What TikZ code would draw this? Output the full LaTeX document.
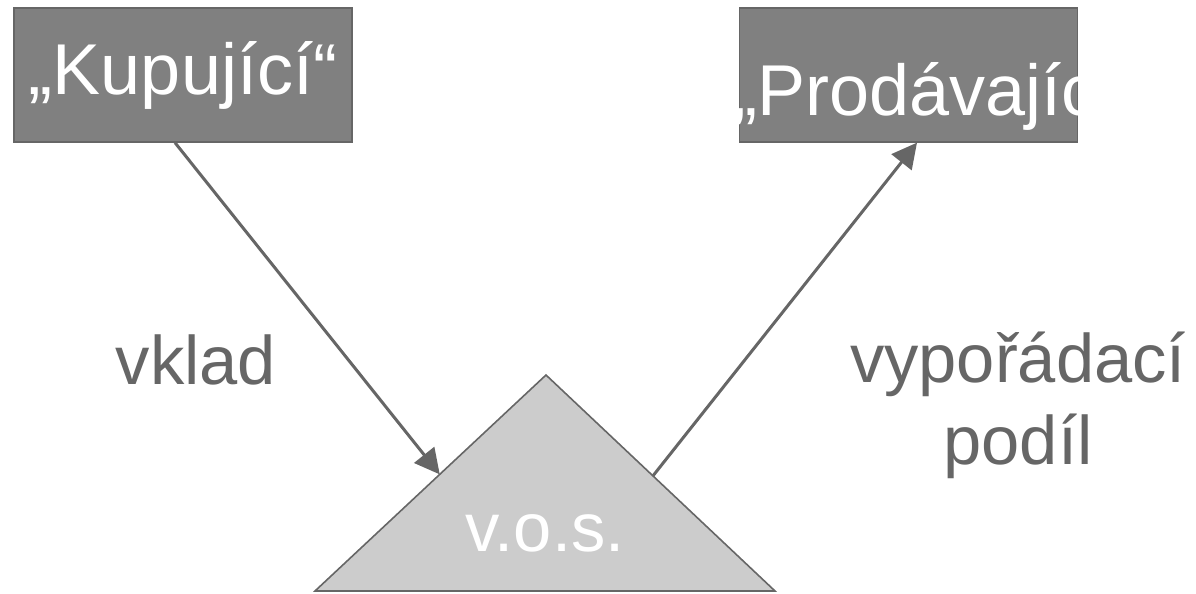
\documentclass[tikz,border=0pt]{standalone}
\usepackage{fontspec}
\setmainfont{Liberation Sans}
\usetikzlibrary{arrows.meta, positioning, calc}
\definecolor{boxgray}{HTML}{808080}
\definecolor{edgegray}{HTML}{666666}
\definecolor{trigray}{HTML}{CCCCCC}
\begin{document}
\begin{tikzpicture}[x=0.75pt, y=-0.75pt, >=Triangle]
    % Styles
    \tikzstyle{party} = [rectangle, draw=edgegray, fill=boxgray, line width=1pt, minimum width=253.5pt, minimum height=100.5pt, inner sep=0pt, text=white, font=\fontsize{54}{62}\selectfont]
    \tikzstyle{arrow} = [draw=edgegray, -{Triangle[length=18.75pt, width=19pt]}, line width=2.25pt]
    \tikzstyle{label} = [text=edgegray, align=center, inner sep=0pt, font=\fontsize{51.5}{62}\selectfont]

    \useasboundingbox (0,0) rectangle (1196,593);

    % Nodes
    \node[party] (buyer) at (183,75) {„Kupující“};
    \node[party] (seller) at (908.5,75) {};
    \begin{scope}
        \clip (0,0) rectangle (seller.south east);
        \node[anchor=base west, inner sep=0pt, text=white, font=\fontsize{54}{62}\selectfont] (sellername) at (733,115) {„Prodávající“};
    \end{scope}

    \coordinate (apex) at (546,375);
    \coordinate (baseleft) at (315,591);
    \coordinate (baseright) at (775,591);
    \draw[edgegray, fill=trigray, line width=1.2pt] (apex) -- (baseright) -- (baseleft) -- cycle;
    \node[label, text=white] (company) at (545,533) {v.o.s.};

    \node[label] (deposit) at (196,360) {vklad};
    \node[label] (share) at (1018,405.5) {vypořádací\\podíl};

    % Edges
    \draw[arrow] ($(buyer.south)+(-8,0)$) -- ($(baseleft)!0.54!(apex)$);
    \draw[arrow] ($(baseright)!0.533!(apex)$) -- ($(seller.south)+(8.5,0)$);

\end{tikzpicture}
\end{document}
